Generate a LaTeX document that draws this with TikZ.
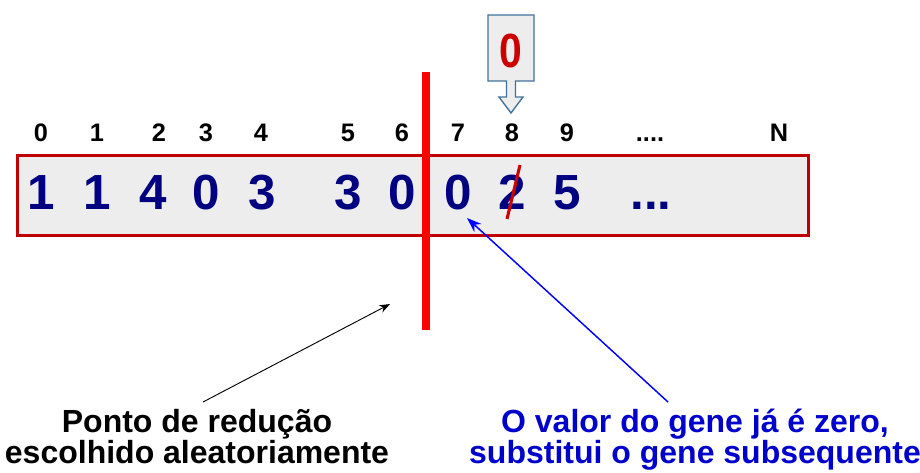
\documentclass[tikz,border=0pt]{standalone}
\usepackage{fontspec}
\setmainfont{Liberation Sans}
\newfontfamily\narrowfont[FakeStretch=0.85]{Liberation Sans}
\usetikzlibrary{arrows.meta}
\definecolor{boxred}{HTML}{C00000}
\definecolor{boxfill}{HTML}{EDEDED}
\definecolor{genenavy}{HTML}{000080}
\definecolor{callblue}{HTML}{41719C}
\definecolor{zerored}{HTML}{CC0000}
\definecolor{noteblue}{HTML}{0000CC}
\begin{document}
\begin{tikzpicture}[x=0.75pt,y=-0.75pt,
  idx/.style={font=\fontsize{19}{20}\selectfont\bfseries, text=black, inner sep=0pt, anchor=base},
  gene/.style={font=\fontsize{37}{40}\selectfont\bfseries, text=genenavy, inner sep=0pt, anchor=base},
  note/.style={font=\fontsize{24}{25}\selectfont\bfseries, inner sep=0pt, anchor=base}]
\useasboundingbox (0,0) rectangle (920,472);
% chromosome box
\draw[boxred, line width=2.25pt, fill=boxfill] (17,155) rectangle (808,235);
% index labels
\foreach \n/\x/\t in {0/41/0,1/97/1,2/159/2,3/206/3,4/261/4,5/348/5,6/402/6,7/458/7,8/512/8,9/567/9,11/779/N}
  \node[idx] (i\n) at (\x,141) {\t};
\node[idx] (i10) at (650,141) {....};
% genes
\foreach \n/\x/\t in {0/41/1,1/97/1,2/153/4,3/206/0,4/262/3,5/348/3,6/402/0,7/458/0,8/512/2,9/567/5}
  \node[gene] (g\n) at (\x,209) {\t};
\node[gene] (g10) at (651,209) {...};
% strike-through of the 2
\draw[zerored, line width=2.3pt] (520,165) -- (507,219);
% callout
\draw[callblue, line width=1pt, fill=boxfill]
  (488,15) -- (534,15) -- (534,81) -- (515.5,81) -- (515.5,97) -- (523,97) -- (511,113)
  -- (499,97) -- (506.5,97) -- (506.5,81) -- (488,81) -- cycle;
\node[font=\fontsize{36}{38}\selectfont\narrowfont\bfseries, text=zerored, inner sep=0pt, anchor=base] (z) at (511,67) {0};
% cut point
\draw[red, line width=6pt] (426,72) -- (426,330);
% notes
\node[note, text=black] (n1a) at (197,432) {Ponto de redução};
\node[note, text=black] (n1b) at (197,463) {escolhido aleatoriamente};
\node[note, text=noteblue] (n2a) at (695,432) {O valor do gene já é zero,};
\node[note, text=noteblue] (n2b) at (695,463) {substitui o gene subsequente};
\coordinate (a1) at (203,402);
\coordinate (a2) at (390,304);
\draw[black, line width=0.7pt, -{Stealth[length=8pt,width=6pt]}] (a1) -- (a2);
\coordinate (b1) at (668,402);
\coordinate (b2) at (467,218);
\draw[blue, line width=1.1pt, -{Stealth[length=11pt,width=8pt]}] (b1) -- (b2);
\end{tikzpicture}
\end{document}
